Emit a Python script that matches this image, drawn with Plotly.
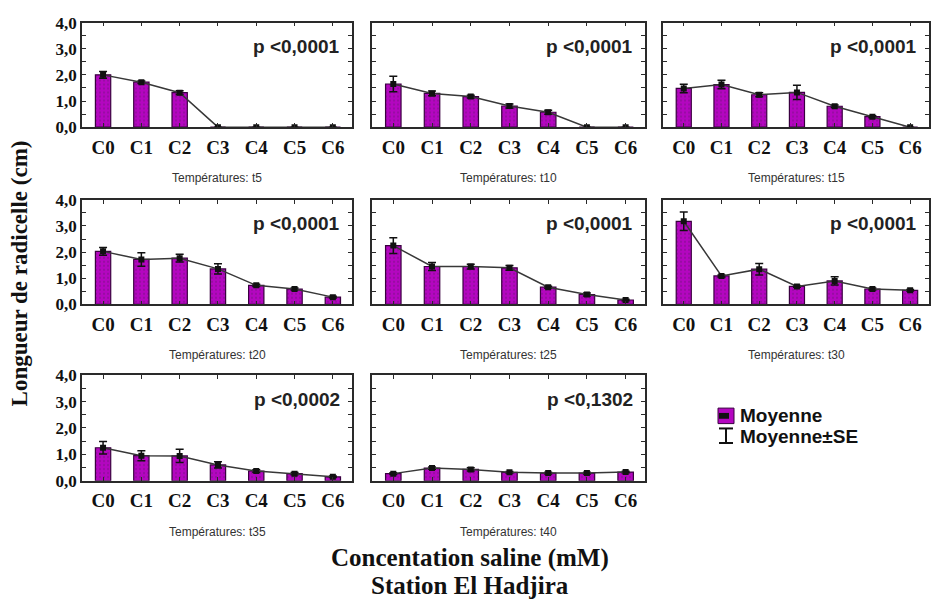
import plotly.graph_objects as go

# ---------------- data ----------------
categories = ["C0", "C1", "C2", "C3", "C4", "C5", "C6"]
panel_titles = ["Températures: t5", "Températures: t10", "Températures: t15",
                "Températures: t20", "Températures: t25", "Températures: t30",
                "Températures: t35", "Températures: t40"]
p_values = ["p <0,0001", "p <0,0001", "p <0,0001", "p <0,0001",
            "p <0,0001", "p <0,0001", "p <0,0002", "p <0,1302"]

mean_t5 = [2.00, 1.72, 1.32, 0.0, 0.0, 0.0, 0.0]
se_t5 = [0.13, 0.05, 0.07, 0.0, 0.0, 0.0, 0.0]
mean_t10 = [1.65, 1.29, 1.17, 0.81, 0.57, 0.0, 0.0]
se_t10 = [0.30, 0.09, 0.05, 0.08, 0.08, 0.0, 0.0]
mean_t15 = [1.48, 1.63, 1.24, 1.33, 0.80, 0.40, 0.0]
se_t15 = [0.16, 0.16, 0.08, 0.27, 0.05, 0.04, 0.0]
mean_t20 = [2.03, 1.72, 1.77, 1.36, 0.73, 0.59, 0.28]
se_t20 = [0.15, 0.26, 0.15, 0.20, 0.04, 0.04, 0.03]
mean_t25 = [2.25, 1.45, 1.45, 1.40, 0.66, 0.38, 0.17]
se_t25 = [0.30, 0.15, 0.09, 0.09, 0.04, 0.06, 0.03]
mean_t30 = [3.18, 1.09, 1.35, 0.69, 0.90, 0.59, 0.54]
se_t30 = [0.35, 0.04, 0.22, 0.03, 0.16, 0.04, 0.03]
mean_t35 = [1.25, 0.95, 0.94, 0.60, 0.37, 0.27, 0.15]
se_t35 = [0.24, 0.19, 0.25, 0.12, 0.05, 0.04, 0.03]
mean_t40 = [0.27, 0.48, 0.43, 0.32, 0.29, 0.29, 0.33]
se_t40 = [0.03, 0.04, 0.06, 0.03, 0.03, 0.03, 0.03]

y_tick_vals = [0, 0.5, 1, 1.5, 2, 2.5, 3, 3.5, 4]
y_tick_text = ["0,0", "", "1,0", "", "2,0", "", "3,0", "", "4,0"]

legend_labels = ["Moyenne", "Moyenne±SE"]
x_title_lines = ["Concentation saline (mM)", "Station El Hadjira"]
y_title = "Longueur de radicelle (cm)"

means = [mean_t5, mean_t10, mean_t15, mean_t20, mean_t25, mean_t30, mean_t35, mean_t40]
ses = [se_t5, se_t10, se_t15, se_t20, se_t25, se_t30, se_t35, se_t40]

# ---------------- layout geometry ----------------
W, H = 932, 607
col_px = [(82, 352), (372, 645), (663, 929)]
row_px = [(14, 122), (197, 305), (378, 487)]

BAR = "#B406C0"
PAT = "#7a1284"
EDGE = "#3a0040"
AX = "#2a2a2a"
SERIF = "Liberation Serif"
SANS = "Liberation Sans"

fig = go.Figure()
annotations = []
layout_axes = {}

for i in range(8):
    r, c = divmod(i, 3)
    k = "" if i == 0 else str(i + 1)
    xa, ya = "x" + k, "y" + k
    fig.add_trace(go.Bar(
        x=categories, y=means[i], xaxis=xa, yaxis=ya, width=0.4,
        marker=dict(color=BAR, line=dict(color=EDGE, width=1.2),
                    pattern=dict(shape=".", fgcolor=PAT, bgcolor=BAR, size=4, solidity=0.25)),
        showlegend=False, hoverinfo="skip"))
    fig.add_trace(go.Scatter(
        x=categories, y=means[i], xaxis=xa, yaxis=ya, mode="lines+markers",
        line=dict(color="#383838", width=1.5),
        marker=dict(symbol="square", size=6, color="#111111"),
        error_y=dict(type="data", array=ses[i], visible=True, color="#111111",
                     thickness=1.5, width=4),
        showlegend=False, hoverinfo="skip"))
    x0, x1 = col_px[c]
    y0, y1 = row_px[r]
    layout_axes["xaxis" + k] = dict(
        domain=[x0 / W, x1 / W], anchor=ya, type="category", range=[-0.55, 6.5],
        showline=True, linecolor=AX, linewidth=1.5, mirror="allticks",
        ticks="inside", ticklen=4, tickcolor=AX, tickwidth=1,
        tickfont=dict(family=SERIF, size=19, color="#111111", weight="bold"),
        ticklabelstandoff=2, showgrid=False, zeroline=False, fixedrange=True)
    layout_axes["yaxis" + k] = dict(
        domain=[1 - y1 / H, 1 - y0 / H], anchor=xa, range=[0, 4],
        tickmode="array", tickvals=y_tick_vals, ticktext=y_tick_text,
        showticklabels=(c == 0),
        showline=True, linecolor=AX, linewidth=1.5, mirror="allticks",
        ticks="inside", ticklen=4, tickcolor=AX, tickwidth=1,
        tickfont=dict(family=SERIF, size=17, color="#111111", weight="bold"),
        showgrid=False, zeroline=False, fixedrange=True)
    annotations.append(dict(
        text=p_values[i], xref=xa + " domain", yref=ya + " domain", x=1, y=1,
        xanchor="right", yanchor="middle", xshift=-10, yshift=-24, showarrow=False,
        font=dict(family=SANS, size=19, color="#222222", weight="bold")))
    annotations.append(dict(
        text=panel_titles[i], xref=xa + " domain", yref=ya + " domain", x=0.5, y=0,
        xanchor="center", yanchor="middle", yshift=-51, showarrow=False,
        font=dict(family=SANS, size=12, color="#333333")))

# axis titles
annotations.append(dict(text=y_title, xref="paper", yref="paper", x=19 / W, y=1 - 273 / H,
                        textangle=-90, showarrow=False, xanchor="center", yanchor="middle",
                        font=dict(family=SERIF, size=23, color="#111111", weight="bold")))
annotations.append(dict(text=x_title_lines[0], xref="paper", yref="paper", x=470 / W, y=1 - 567 / H,
                        showarrow=False, xanchor="center", yanchor="middle",
                        font=dict(family=SERIF, size=25, color="#111111", weight="bold")))
annotations.append(dict(text=x_title_lines[1], xref="paper", yref="paper", x=470 / W, y=1 - 595 / H,
                        showarrow=False, xanchor="center", yanchor="middle",
                        font=dict(family=SERIF, size=25, color="#111111", weight="bold")))

# legend (drawn)
annotations.append(dict(text=legend_labels[0], xref="paper", yref="paper", x=738 / W, y=1 - 420 / H,
                        showarrow=False, xanchor="left", yanchor="middle",
                        font=dict(family=SANS, size=19, color="#111111", weight="bold")))
annotations.append(dict(text=legend_labels[1], xref="paper", yref="paper", x=738 / W, y=1 - 441 / H,
                        showarrow=False, xanchor="left", yanchor="middle",
                        font=dict(family=SANS, size=19, color="#111111", weight="bold")))
shapes = [
    dict(type="rect", xref="paper", yref="paper", x0=718 / W, x1=734 / W, y0=1 - 428 / H, y1=1 - 412 / H,
         fillcolor=BAR, line=dict(color=EDGE, width=1)),
    dict(type="rect", xref="paper", yref="paper", x0=719 / W, x1=729 / W, y0=1 - 423 / H, y1=1 - 417 / H,
         fillcolor="#111111", line=dict(width=0)),
    dict(type="line", xref="paper", yref="paper", x0=726 / W, x1=726 / W, y0=1 - 448 / H, y1=1 - 433 / H,
         line=dict(color="#111111", width=2)),
    dict(type="line", xref="paper", yref="paper", x0=719 / W, x1=733 / W, y0=1 - 433 / H, y1=1 - 433 / H,
         line=dict(color="#111111", width=2)),
    dict(type="line", xref="paper", yref="paper", x0=719 / W, x1=733 / W, y0=1 - 448 / H, y1=1 - 448 / H,
         line=dict(color="#111111", width=2)),
]

fig.update_layout(width=W, height=H, margin=dict(l=0, r=0, t=0, b=0),
                  paper_bgcolor="white", plot_bgcolor="white",
                  annotations=annotations, shapes=shapes, showlegend=False,
                  bargap=0.3, **layout_axes)

fig.write_html("out.html")
